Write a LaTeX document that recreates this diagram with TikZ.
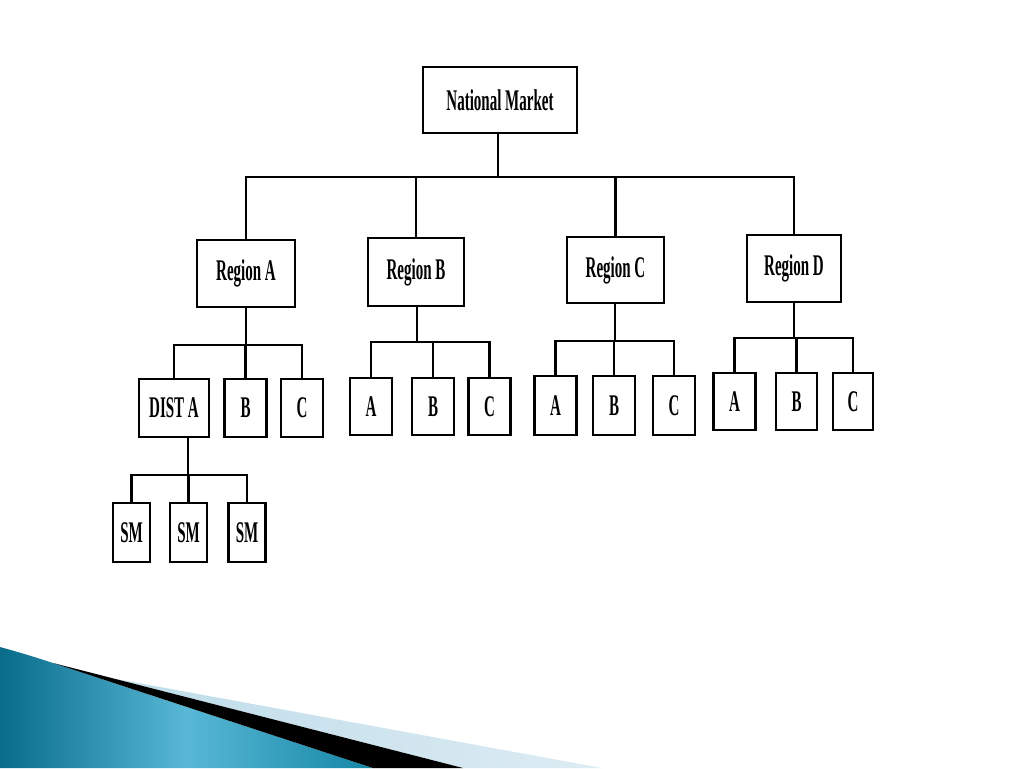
\documentclass[tikz,border=0pt]{standalone}
\usepackage{fontspec}
\newfontfamily\chartfont[FakeStretch=0.5]{Liberation Serif}
\usetikzlibrary{positioning}
\definecolor{tealdark}{RGB}{8,108,138}
\definecolor{tealmid}{RGB}{88,184,214}
\definecolor{tealend}{RGB}{20,135,165}
\definecolor{pale}{RGB}{185,218,233}
\definecolor{paler}{RGB}{222,236,243}
\tikzset{
  box/.style={draw, line width=2.5pt, fill=white, inner sep=0pt, font=\chartfont\bfseries\fontsize{30}{31}\selectfont},
  leaf/.style={box, minimum width=42pt, minimum height=57pt},
  link/.style={line width=2.2pt}
}

\begin{document}
\begin{tikzpicture}[x=1pt,y=-1pt]
\useasboundingbox (0,0) rectangle (1024,768);

% slide corner
\shade[left color=tealdark, right color=tealend, middle color=tealmid] (0,647) .. controls (25,654) .. (53,663) -- (373,768) -- (0,768) -- cycle;
\shade[left color=pale, right color=paler] (53,663) -- (100,676) -- (602,768) -- (463,768) -- cycle;
\fill[black] (53,663) -- (463,768) -- (373,768) -- cycle;

% top
\node[box, minimum width=154pt, minimum height=66pt] (nm) at (500,100) {National Market};

% regions
\node[box, minimum width=98pt, minimum height=67pt] (ra) at (246,273.5) {Region A};
\node[box, minimum width=96pt, minimum height=68pt] (rb) at (416,272) {Region B};
\node[box, minimum width=97pt, minimum height=66pt] (rc) at (615.5,270) {Region C};
\node[box, minimum width=94pt, minimum height=67pt] (rd) at (794,268.5) {Region D};

% region A
\node[leaf, minimum width=70pt, minimum height=58pt] (ada) at (174,408) {DIST A};
\node[leaf, minimum height=58pt] (ab) at (245.5,408) {B};
\node[leaf, minimum height=58pt] (ac) at (302,408) {C};

% region B
\node[leaf] (ba) at (371,406.5) {A};
\node[leaf] (bb) at (433,406.5) {B};
\node[leaf] (bc) at (489.5,406.5) {C};

% region C
\node[leaf, minimum height=59pt] (ca) at (555.5,405.5) {A};
\node[leaf, minimum height=59pt] (cb) at (614,405.5) {B};
\node[leaf, minimum height=59pt] (cc) at (674,405.5) {C};

% region D
\node[leaf] (da) at (734.5,401.5) {A};
\node[leaf, minimum width=41pt] (db) at (796.5,401.5) {B};
\node[leaf, minimum width=40pt] (dc) at (853,401.5) {C};

% dist A
\node[leaf, minimum width=37pt, minimum height=59pt] (sm1) at (131.5,532.5) {SM};
\node[leaf, minimum width=37pt, minimum height=59pt] (sm2) at (188.5,532.5) {SM};
\node[leaf, minimum width=37pt, minimum height=59pt] (sm3) at (247,532.5) {SM};

\coordinate (nmbus) at (498,177);
\coordinate (rabus) at (246,345);
\coordinate (rbbus) at (417,342);
\coordinate (rcbus) at (615,341);
\coordinate (rdbus) at (794,338);
\coordinate (dabus) at (188,475);

\draw[link] (nmbus |- nm.south) -- (nmbus);
\draw[link] (ra.north) |- (nmbus);
\draw[link] (rb.north) |- (nmbus);
\draw[link] (rc.north) |- (nmbus);
\draw[link] (rd.north) |- (nmbus);

\draw[link] (rabus |- ra.south) -- (rabus);
\draw[link] (ada.north) |- (rabus);
\draw[link] (ab.north) |- (rabus);
\draw[link] (ac.north) |- (rabus);

\draw[link] (rbbus |- rb.south) -- (rbbus);
\draw[link] (ba.north) |- (rbbus);
\draw[link] (bb.north) |- (rbbus);
\draw[link] (bc.north) |- (rbbus);

\draw[link] (rcbus |- rc.south) -- (rcbus);
\draw[link] (ca.north) |- (rcbus);
\draw[link] (cb.north) |- (rcbus);
\draw[link] (cc.north) |- (rcbus);

\draw[link] (rdbus |- rd.south) -- (rdbus);
\draw[link] (da.north) |- (rdbus);
\draw[link] (db.north) |- (rdbus);
\draw[link] (dc.north) |- (rdbus);

\draw[link] (dabus |- ada.south) -- (dabus);
\draw[link] (sm1.north) |- (dabus);
\draw[link] (sm2.north) |- (dabus);
\draw[link] (sm3.north) |- (dabus);
\end{tikzpicture}
\end{document}
